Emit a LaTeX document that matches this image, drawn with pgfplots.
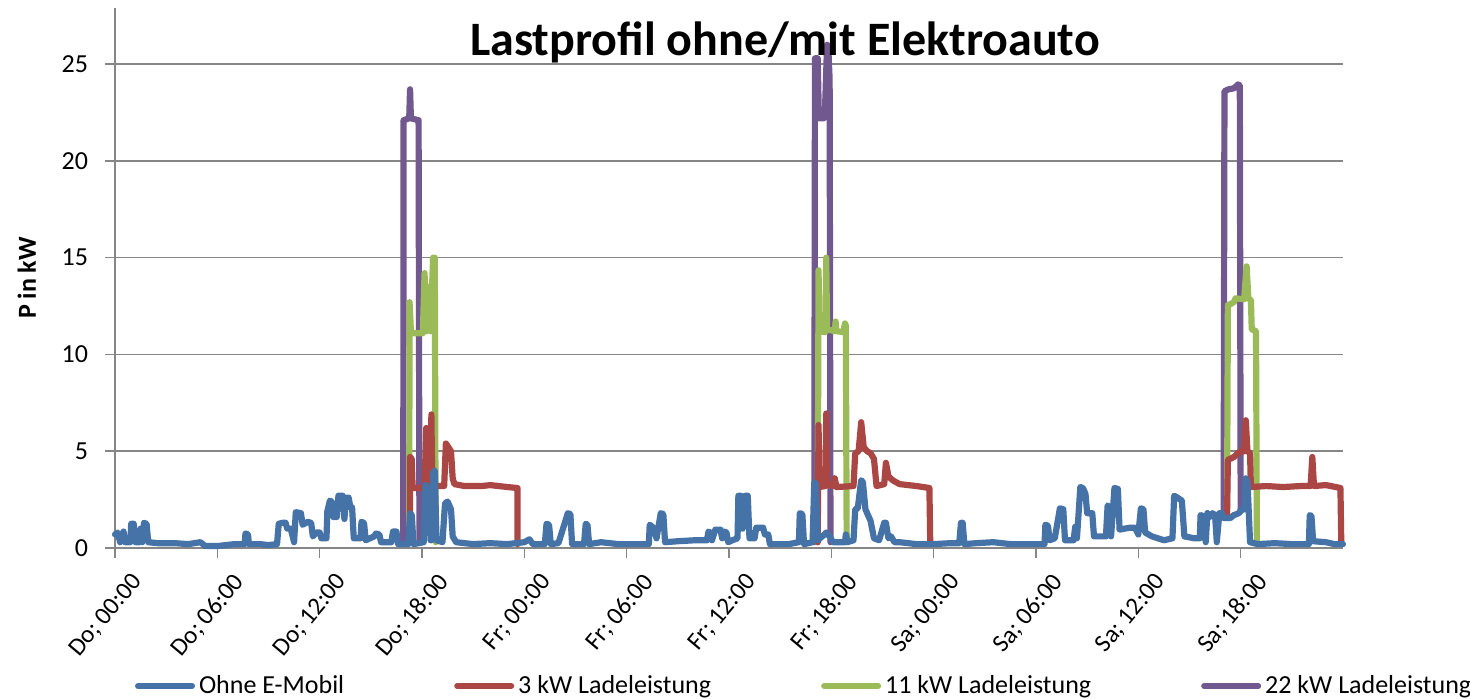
\documentclass[border=0pt]{standalone}
\usepackage{pgfplots}
\pgfplotsset{compat=1.18}
\usepackage{fontspec}
\setmainfont{Carlito}
\definecolor{cblue}{HTML}{4572A7}
\definecolor{cred}{HTML}{AA4643}
\definecolor{cgreen}{HTML}{9BBB59}
\definecolor{cpurple}{HTML}{71588F}
\definecolor{cgrid}{HTML}{868686}
\begin{document}
\begin{tikzpicture}
\begin{axis}[
  scale only axis, width=614pt, height=270pt,
  xmin=0, xmax=72, ymin=0, ymax=27.9,
  axis x line=bottom, axis y line=left,
  axis line style={-, cgrid, line width=0.8pt},
  tick style={cgrid, line width=0.8pt},
  tick align=outside,
  major tick length=5pt,
  ytick={0,5,10,15,20,25},
  ymajorgrids, grid style={cgrid, line width=0.8pt},
  xtick={0,6,...,66},
  xticklabels={Do; 00:00,Do; 06:00,Do; 12:00,Do; 18:00,Fr; 00:00,Fr; 06:00,Fr; 12:00,Fr; 18:00,Sa; 00:00,Sa; 06:00,Sa; 12:00,Sa; 18:00},
  xticklabel style={rotate=50, anchor=east, font=\fontsize{12.5}{14}\selectfont, xshift=3pt, yshift=-15pt},
  yticklabel style={font=\fontsize{13}{15}\selectfont, xshift=-5pt},
  /pgf/number format/assume math mode=true,
  ylabel={\bfseries P in kW},
  ylabel style={font=\fontsize{13}{15}\selectfont, yshift=6pt},
  legend columns=4,
  legend style={draw=none, fill=none, at={(rel axis cs:0.562,-0.2556)}, anchor=center,
    font=\fontsize{13}{15}\selectfont,
    /tikz/every even column/.append style={column sep=53pt}},
  legend image code/.code={\draw[#1, line width=3pt, line cap=round] (0pt,0pt) -- (27pt,0pt);},
  unbounded coords=jump,
  every axis plot/.append style={line width=3.1pt, line join=round, line cap=round},
  clip=false,
]
\addlegendimage{cblue}
\addlegendentry{Ohne E-Mobil}
\addlegendimage{cred}
\addlegendentry{3 kW Ladeleistung}
\addlegendimage{cgreen}
\addlegendentry{11 kW Ladeleistung}
\addlegendimage{cpurple}
\addlegendentry{22 kW Ladeleistung}

% 22 kW
\addplot[cpurple, forget plot] coordinates {
(16.9,0.3)(16.92,22.1)(17.25,22.2)(17.3,23.7)(17.35,22.2)(17.8,22.1)(17.85,0.3)
(17.9,nan)
(41.0,0.3)(41.04,25.3)(41.2,25.3)(41.27,22.2)(41.55,22.2)(41.62,22.4)(41.75,26.0)(41.82,25.9)(41.9,24.2)(41.95,0.3)
(42.0,nan)
(65.0,1.6)(65.05,23.6)(65.3,23.7)(65.6,23.75)(65.85,23.95)(65.95,23.9)(66.0,1.9)
};
% 11 kW
\addplot[cgreen, forget plot] coordinates {
(17.25,0.3)(17.27,12.7)(17.35,11.2)(17.5,11.1)(18.05,11.1)(18.15,14.2)(18.25,11.2)(18.4,13.5)(18.5,11.2)(18.65,15.0)(18.75,15.0)(18.8,0.3)
(18.9,nan)
(41.2,0.3)(41.25,14.35)(41.3,11.2)(41.65,11.15)(41.7,15.0)(41.75,11.3)(42.2,11.2)(42.25,11.7)(42.3,11.2)(42.7,11.15)(42.8,11.6)(42.85,11.5)(42.9,0.3)
(43.0,nan)
(65.2,1.6)(65.25,12.55)(65.4,12.6)(65.6,12.7)(65.7,12.9)(66.2,12.85)(66.35,14.55)(66.45,12.9)(66.6,12.8)(66.65,11.3)(66.9,11.2)(66.95,0.3)
};
% 3 kW
\addplot[cred, forget plot] coordinates {
(17.3,0.3)(17.3,4.7)(17.4,4.6)(17.45,3.1)(18.0,3.1)(18.15,3.2)(18.25,6.2)(18.4,5.5)(18.5,3.3)(18.55,6.9)(18.6,3.3)(18.8,3.2)(19.3,3.2)(19.4,5.4)(19.55,5.2)(19.7,5.0)(19.8,3.6)(19.9,3.3)(20.5,3.2)(21.5,3.2)(22.0,3.25)(23.0,3.15)(23.6,3.1)(23.6,0.2)
(23.7,nan)
(41.2,0.3)(41.25,6.35)(41.3,3.15)(41.65,3.2)(41.7,6.95)(41.75,3.3)(42.1,3.2)(42.2,3.6)(42.3,3.15)(43.3,3.2)(43.4,4.9)(43.6,5.0)(43.75,6.5)(43.9,5.2)(44.1,5.0)(44.3,4.9)(44.5,4.6)(44.65,3.2)(45.1,3.3)(45.2,4.4)(45.35,3.7)(45.6,3.5)(46.0,3.3)(46.5,3.25)(47.0,3.2)(47.75,3.1)(47.8,0.2)
(47.9,nan)
(65.2,1.6)(65.25,4.55)(65.6,4.7)(65.9,4.95)(66.2,5.0)(66.3,6.6)(66.4,5.0)(66.55,4.9)(66.6,3.15)(67.5,3.2)(68.5,3.15)(69.5,3.2)(70.1,3.2)(70.2,4.7)(70.3,3.2)(71.0,3.25)(71.85,3.1)(71.9,0.2)
};
% Ohne E-Mobil
\addplot[cblue, forget plot] coordinates {
(0,0.7)(0.15,0.8)(0.3,0.3)(0.5,0.85)(0.6,0.3)(0.9,0.3)(0.95,1.25)(1.1,1.25)(1.2,0.3)(1.45,0.3)(1.5,1.0)(1.6,0.3)(1.7,1.3)(1.85,1.25)(1.95,0.3)
(2.5,0.25)(3.5,0.25)(4.3,0.2)(5.0,0.3)(5.3,0.1)(6.0,0.1)(6.5,0.15)(7.0,0.2)(7.6,0.2)(7.65,0.75)(7.8,0.7)(7.85,0.2)(8.5,0.2)(9.0,0.15)(9.5,0.2)
(9.6,1.25)(9.8,1.3)(10.0,1.3)(10.1,1.0)(10.3,1.0)(10.5,0.3)(10.6,1.85)(10.9,1.8)(11.0,1.2)(11.3,1.35)(11.5,1.3)(11.6,0.6)(11.8,0.8)(12.0,0.8)(12.1,0.5)(12.4,0.5)
(12.45,1.9)(12.6,2.45)(12.7,2.4)(12.8,1.6)(13.0,1.6)(13.1,2.7)(13.35,2.7)(13.45,1.5)(13.55,2.6)(13.7,2.6)(13.8,2.1)(13.9,2.1)(14.0,0.5)(14.4,0.5)(14.45,1.35)(14.6,1.3)(14.7,0.4)
(15.2,0.6)(15.3,0.75)(15.5,0.7)(15.6,0.3)(16.2,0.3)(16.3,0.85)(16.5,0.85)(16.6,0.2)(17.2,0.2)(17.3,1.8)(17.4,1.7)(17.5,0.2)(18.1,0.3)(18.2,3.25)(18.4,3.0)(18.5,0.4)
(18.55,0.4)(18.65,3.9)(18.75,4.0)(18.85,0.4)(19.2,0.3)(19.35,2.3)(19.5,2.4)(19.7,2.0)(19.8,0.6)(20.0,0.3)(21,0.2)(22,0.25)(23,0.2)(24,0.3)(24.3,0.45)(24.5,0.2)
(25.2,0.2)(25.3,1.25)(25.45,1.2)(25.55,0.2)(26.0,0.25)(26.55,1.8)(26.7,1.75)(26.8,0.2)(27.5,0.2)(27.6,1.25)(27.7,1.2)(27.8,0.2)(28.5,0.3)(29.5,0.2)(30.5,0.2)
(31.3,0.2)(31.35,1.2)(31.5,1.1)(31.6,1.0)(31.75,0.5)(32.0,1.8)(32.15,1.75)(32.25,0.3)(33,0.35)(34,0.4)(34.7,0.4)(34.8,0.85)(34.9,0.8)(35.0,0.4)(35.2,0.95)(35.5,0.95)(35.6,0.5)(35.75,0.85)(35.85,0.8)(35.95,0.3)
(36.2,0.4)(36.5,0.5)(36.55,2.7)(36.7,2.7)(36.8,1.0)(36.95,2.7)(37.1,2.7)(37.2,0.5)(37.5,0.5)(37.6,1.05)(37.8,1.05)(38.0,1.05)(38.1,0.7)(38.3,0.7)(38.4,0.2)(39.5,0.2)
(40.1,0.3)(40.15,1.8)(40.3,1.75)(40.4,0.2)(40.9,0.3)(41.0,3.4)(41.1,3.3)(41.2,0.4)(41.6,0.7)(41.7,0.8)(41.9,0.6)(42.1,0.3)(42.8,0.3)(42.85,0.7)(42.95,0.3)
(43.3,0.4)(43.4,2.0)(43.55,2.05)(43.75,3.5)(43.85,3.4)(44.0,2.0)(44.3,1.4)(44.5,0.5)(44.8,0.4)(45.1,1.3)(45.2,1.3)(45.35,0.5)(45.5,0.6)(45.7,0.3)(46,0.3)(47,0.2)(48,0.2)(49,0.25)(49.5,0.25)
(49.6,1.3)(49.7,1.3)(49.8,0.2)(50.5,0.25)(51.5,0.3)(52.5,0.2)(53.5,0.2)(54.5,0.2)(54.55,1.2)(54.7,1.15)(54.8,0.4)(55.1,0.5)(55.4,2.05)(55.6,2.0)(55.7,0.4)
(56.2,0.4)(56.3,1.1)(56.4,0.5)(56.6,3.15)(56.75,3.1)(56.9,2.8)(57.0,1.8)(57.3,1.8)(57.4,0.6)(58.1,0.6)(58.2,2.2)(58.3,2.1)(58.4,0.6)(58.6,3.1)(58.8,3.05)(58.9,0.95)
(59.2,1.0)(59.5,1.05)(59.8,1.05)(60.0,0.7)(60.15,2.05)(60.3,2.0)(60.4,0.8)(60.8,0.6)(61.5,0.4)(62.0,0.5)(62.1,2.7)(62.3,2.6)(62.55,2.45)(62.7,0.6)(63.3,0.5)(63.6,0.5)
(63.65,1.7)(63.8,1.65)(63.95,0.3)(64.05,1.8)(64.2,1.6)(64.35,1.8)(64.5,1.7)(64.6,0.3)(64.75,1.8)(64.9,1.8)(65.0,1.55)(65.4,1.55)(65.6,1.7)(65.9,1.8)(66.0,1.95)(66.2,2.0)
(66.3,3.6)(66.4,3.4)(66.55,0.3)(67,0.2)(68,0.25)(69,0.2)(70.0,0.2)(70.05,1.7)(70.15,1.65)(70.25,0.35)(71,0.3)(71.5,0.2)(72,0.2)
};
\node[font=\bfseries\fontsize{24}{28}\selectfont] at (rel axis cs:0.5456,0.937) {Lastprofil ohne/mit Elektroauto};
\end{axis}
\pgfresetboundingbox
\useasboundingbox (-57.5pt,-75.5pt) rectangle (677.5pt,274pt);
\end{tikzpicture}
\end{document}
